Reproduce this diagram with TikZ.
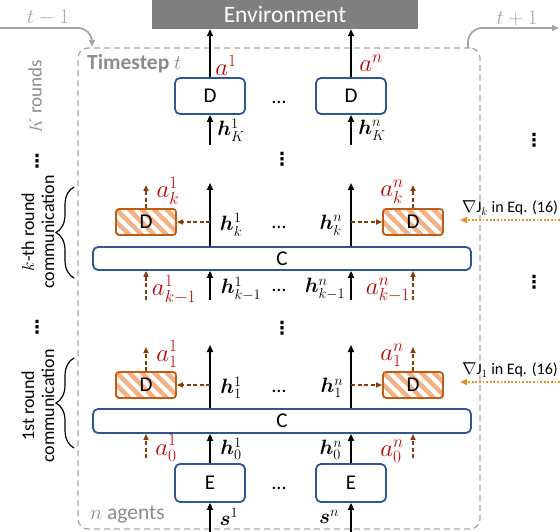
\documentclass[tikz,border=0pt]{standalone}
\usepackage{fontspec}
\setmainfont{Carlito}
\newfontfamily\djvb{DejaVu Sans Bold}
\usepackage{amsmath}
\usepackage{bm}
\usetikzlibrary{arrows.meta,decorations.pathreplacing,calc}
\definecolor{boxblue}{HTML}{2F5597}
\definecolor{oboxc}{HTML}{C55A11}
\definecolor{stripec}{HTML}{F4B183}
\definecolor{dbrown}{HTML}{843C0C}
\definecolor{labred}{HTML}{C00000}
\definecolor{gorange}{HTML}{E8921E}
\definecolor{framegray}{HTML}{A6A6A6}
\definecolor{envgray}{HTML}{7F7F7F}
\definecolor{txtgray}{HTML}{8C8C8C}
\begin{document}
\begin{tikzpicture}[x=1pt,y=-1pt,
  font=\fontsize{21}{24}\selectfont,
  bbox/.style={draw=boxblue, line width=1.8pt, rounded corners=5pt, fill=white, inner sep=0pt},
  dbox/.style={bbox, minimum width=70pt, minimum height=36pt},
  cbox/.style={bbox, minimum width=378pt, minimum height=23pt},
  hatch/.style={path picture={\foreach \i in {-4,...,6}{\draw[line width=4.5pt, stripec] ([xshift=\i*12.5pt]path picture bounding box.north west) -- ++(32pt,-32pt);}}},
  obox/.style={draw=oboxc, line width=1.8pt, rounded corners=3pt, fill=white, inner sep=0pt, minimum width=60pt, minimum height=26pt, hatch},
  frame/.style={draw=framegray, dash pattern=on 6pt off 4pt, line width=1.3pt, rounded corners=10pt, minimum width=402pt, minimum height=481pt, inner sep=0pt},
  env/.style={fill=envgray, text=white, minimum width=266pt, minimum height=29pt, inner sep=0pt, font=\fontsize{23.5}{25}\selectfont},
  blk/.style={-{Triangle[length=7pt,width=6pt]}, line width=1.6pt, black},
  brn/.style={-{Triangle[length=6pt,width=5pt]}, line width=1.5pt, dbrown, dash pattern=on 4pt off 2.5pt},
  grd/.style={-{Triangle[length=7pt,width=6pt]}, line width=1.8pt, gorange, dash pattern=on 1.8pt off 1.8pt},
  tarr/.style={-{Triangle[length=7pt,width=6pt]}, line width=1.8pt, framegray, rounded corners=14pt},
  lab/.style={inner sep=0pt, font=\fontsize{21}{23}\selectfont},
  rlab/.style={inner sep=0pt, text=labred, font=\fontsize{23}{25}\selectfont},
  brace/.style={decorate, decoration={brace, amplitude=18pt}, line width=1.2pt},
  rot/.style={rotate=90, align=center, inner sep=0pt, font=\fontsize{18}{20}\selectfont},
  dots/.style={inner sep=0pt, font=\fontsize{20}{22}\selectfont},
  vdots/.style={inner sep=0pt, font=\fontsize{18}{20}\djvb},
  grad/.style={inner sep=0pt, font=\fontsize{16}{18}\selectfont}
]
\useasboundingbox (0,0) rectangle (560,532);

% frame and environment
\node[frame] (frame) at (279,288.5) {};
\node[env] (env) at (285,14.5) {Environment};

% time arrows
\coordinate (tl0) at (0,28);
\coordinate (tl1) at (92,47);
\coordinate (tr0) at (468,48);
\coordinate (tr1) at (559,28);
\draw[tarr] (tl0) -| (tl1);
\draw[tarr] (tr0) |- (tr1);
\node[lab, text=framegray, font=\fontsize{22}{24}\selectfont] (tm1) at (48,18) {$t-1$};
\node[lab, text=framegray, font=\fontsize{22}{24}\selectfont] (tp1) at (517,18) {$t+1$};

\node[inner sep=0pt, anchor=west, text=txtgray, font=\fontsize{21.5}{24}\selectfont\bfseries] (ts) at (87,64) {Timestep $t$};
\node[inner sep=0pt, anchor=west, text=txtgray, font=\fontsize{21.5}{24}\selectfont] (na) at (90,515) {$n$ agents};
\node[rot, text=txtgray, font=\fontsize{19}{21}\selectfont] (kr) at (35,97) {$K$ rounds};

% top decoders
\node[dbox] (Dt1) at (210,96) {D};
\node[dbox] (Dtn) at (351,96) {D};
\draw[blk] (Dt1.north) -- (Dt1.north |- env.south);
\draw[blk] (Dtn.north) -- (Dtn.north |- env.south);
\node[rlab] (a1) at (226,65) {$a^1$};
\node[rlab] (an) at (371,63) {$a^n$};
\coordinate (hK1) at (210,145);
\coordinate (hKn) at (351,145);
\draw[blk] (hK1) -- (Dt1.south);
\draw[blk] (hKn) -- (Dtn.south);
\node[lab] (lhK1) at (231,130) {$\bm{h}_K^1$};
\node[lab] (lhKn) at (372,130) {$\bm{h}_K^n$};
\node[dots, anchor=base] (dd1) at (279,104) {…};

% k-th round
\node[cbox] (Ck) at (282,258.5) {C};
\node[obox] (Dk1) at (146,222) {D};
\node[obox] (Dkn) at (413,222) {D};
\coordinate (hk1) at (210,183);
\coordinate (hkn) at (351,183);
\coordinate (ak1) at (146,185);
\coordinate (akn) at (413,185);
\draw[blk] (Ck.north -| hk1) -- (hk1);
\draw[blk] (Ck.north -| hkn) -- (hkn);
\draw[brn] (Dk1.east -| hk1) -- (Dk1.east);
\draw[brn] (Dkn.west -| hkn) -- (Dkn.west);
\draw[brn] (Dk1.north) -- (ak1);
\draw[brn] (Dkn.north) -- (akn);
\coordinate (hm1) at (210,300);
\coordinate (hmn) at (351,300);
\coordinate (am1) at (146,300);
\coordinate (amn) at (413,300);
\draw[blk] (hm1) -- (Ck.south -| hm1);
\draw[blk] (hmn) -- (Ck.south -| hmn);
\draw[brn] (am1) -- (Ck.south -| am1);
\draw[brn] (amn) -- (Ck.south -| amn);
\node[rlab] (lak1) at (168,191) {$a_k^1$};
\node[rlab] (lakn) at (392,192) {$a_k^n$};
\node[lab] (lhk1) at (231,225) {$\bm{h}_k^1$};
\node[lab] (lhkn) at (331,225) {$\bm{h}_k^n$};
\node[rlab] (lam1) at (174,290) {$a_{k-1}^1$};
\node[rlab] (lamn) at (388,290) {$a_{k-1}^n$};
\node[lab] (lhm1) at (241,289) {$\bm{h}_{k-1}^1$};
\node[lab] (lhmn) at (325,289) {$\bm{h}_{k-1}^n$};
\node[dots, anchor=base] (dd2) at (279,229) {…};
\node[dots, anchor=base] (dd3) at (279,291) {…};

% 1st round
\node[cbox, minimum height=24pt] (C1) at (282,421) {C};
\node[obox] (D11) at (146,385) {D};
\node[obox] (D1n) at (413,385) {D};
\coordinate (h11) at (210,345);
\coordinate (h1n) at (351,345);
\coordinate (a11) at (146,347);
\coordinate (a1n) at (413,347);
\draw[blk] (C1.north -| h11) -- (h11);
\draw[blk] (C1.north -| h1n) -- (h1n);
\draw[brn] (D11.east -| h11) -- (D11.east);
\draw[brn] (D1n.west -| h1n) -- (D1n.west);
\draw[brn] (D11.north) -- (a11);
\draw[brn] (D1n.north) -- (a1n);
\node[dbox, minimum height=38pt] (E1) at (210,483) {E};
\node[dbox, minimum height=38pt] (En) at (351,483) {E};
\draw[blk] (E1.north) -- (E1.north |- C1.south);
\draw[blk] (En.north) -- (En.north |- C1.south);
\coordinate (a01) at (146,458);
\coordinate (a0n) at (413,458);
\draw[brn] (a01) -- (C1.south -| a01);
\draw[brn] (a0n) -- (C1.south -| a0n);
\coordinate (s1) at (210,532);
\coordinate (sn) at (351,532);
\draw[blk] (s1) -- (E1.south);
\draw[blk] (sn) -- (En.south);
\node[rlab] (la11) at (167,354) {$a_1^1$};
\node[rlab] (la1n) at (392,355) {$a_1^n$};
\node[lab] (lh11) at (231,388) {$\bm{h}_1^1$};
\node[lab] (lh1n) at (332,388) {$\bm{h}_1^n$};
\node[rlab] (la01) at (166,448) {$a_0^1$};
\node[rlab] (la0n) at (392,451) {$a_0^n$};
\node[lab] (lh01) at (231,449) {$\bm{h}_0^1$};
\node[lab] (lh0n) at (331,450) {$\bm{h}_0^n$};
\node[lab] (ls1) at (229,517) {$\bm{s}^1$};
\node[lab] (lsn) at (329,517) {$\bm{s}^n$};
\node[dots, anchor=base] (dd4) at (279,392) {…};
\node[dots, anchor=base] (dd5) at (279,489) {…};

% vertical dots
\node[vdots] (v1) at (282,159) {⋮};
\node[vdots] (v2) at (282,328) {⋮};
\node[vdots] (v3) at (37,161) {⋮};
\node[vdots] (v4) at (37,327) {⋮};
\node[vdots] (v5) at (534,140) {⋮};
\node[vdots] (v6) at (534,282) {⋮};

% braces and side labels
\coordinate (bk0) at (74,278);
\coordinate (bk1) at (74,187);
\coordinate (b10) at (74,448);
\coordinate (b11) at (74,358);
\draw[brace] (bk0) -- (bk1);
\draw[brace] (b10) -- (b11);
\node[rot] (kth) at (38,232) {$k$-th round\\communication};
\node[rot] (fst) at (38,406) {1st round\\communication};

% gradient arrows
\node[grad] (gk) at (510,208) {$\nabla$J$_k$ in Eq. (16)};
\node[grad] (g1) at (510,370) {$\nabla$J$_1$ in Eq. (16)};
\coordinate (gk0) at (560,220);
\coordinate (gk1) at (460,220);
\coordinate (g10) at (560,382);
\coordinate (g11) at (460,382);
\draw[grd] (gk0) -- (gk1);
\draw[grd] (g10) -- (g11);
\end{tikzpicture}
\end{document}
